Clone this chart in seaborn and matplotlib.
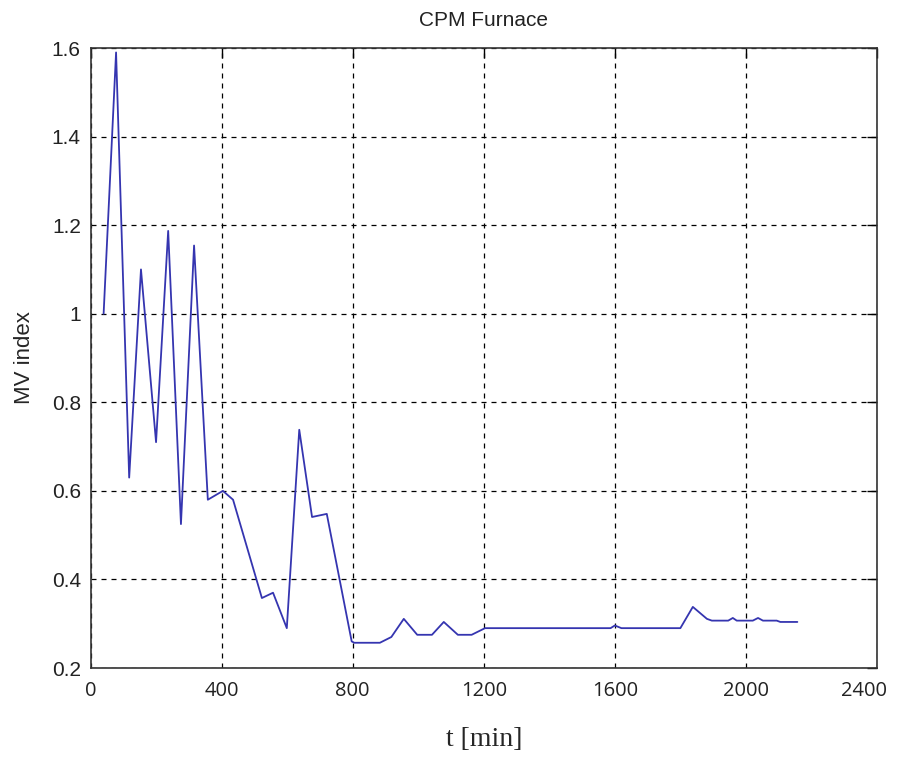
import numpy as np
import pandas as pd
import seaborn as sns
import matplotlib
import matplotlib.pyplot as plt
import matplotlib.transforms as mtransforms

# values
t_min = [40, 78, 118, 154, 200, 237, 276, 316, 358, 404, 435, 523, 557, 599,
         637, 676, 721, 797, 805, 883, 918, 956, 997, 1042, 1078, 1121, 1163,
         1204, 1587, 1600, 1620, 1800, 1838, 1881, 1896, 1946, 1960, 1972,
         2021, 2037, 2052, 2094, 2105, 2157]
mv_index = [1.0, 1.59, 0.63, 1.10, 0.71, 1.187, 0.525, 1.154, 0.58, 0.60, 0.58,
            0.358, 0.37, 0.29, 0.738, 0.541, 0.548, 0.26, 0.257, 0.257, 0.27,
            0.311, 0.275, 0.275, 0.304, 0.275, 0.275, 0.29, 0.29, 0.296, 0.29,
            0.29, 0.338, 0.311, 0.307, 0.307, 0.313, 0.307, 0.307, 0.313,
            0.307, 0.307, 0.304, 0.304]
x_ticks = [0, 400, 800, 1200, 1600, 2000, 2400]
y_ticks = [0.2, 0.4, 0.6, 0.8, 1.0, 1.2, 1.4, 1.6]
y_labels = ['0.2', '0.4', '0.6', '0.8', '1', '1.2', '1.4', '1.6']

df = pd.DataFrame({'t': t_min, 'mv': mv_index})

sns.set_style('white')
plt.rcParams['font.family'] = ['Liberation Sans', 'DejaVu Sans']

fig = plt.figure(figsize=(8.97, 7.61), dpi=100)
ax = fig.add_axes([0.1009, 0.1222, 0.8768, 0.8147])

sns.lineplot(data=df, x='t', y='mv', ax=ax, color='#3535b0', linewidth=1.3, sort=False)

ax.set_xlim(0, 2400)
ax.set_ylim(0.2, 1.6)
ax.set_xticks(x_ticks)
ax.set_yticks(y_ticks)
ax.set_yticklabels(y_labels)
ax.tick_params(direction='in', top=True, right=True, length=7, width=1,
               colors='black')
ax.tick_params(axis='y', labelsize=15, pad=7, labelcolor='#222222')
ax.tick_params(axis='x', labelsize=14.5, pad=9, labelcolor='#222222')
xlabs = ax.get_xticklabels()
for lab in xlabs:
    lab.set_family(['Open Sans', 'DejaVu Sans'])
# last label sits a little left of its tick, as in the reference
shift = mtransforms.ScaledTranslation(-9 / 72, 0, fig.dpi_scale_trans)
xlabs[-1].set_transform(xlabs[-1].get_transform() + shift)
ax.grid(True, color='black', linestyle=(0, (4, 4)), linewidth=0.9)
for s in ax.spines.values():
    s.set_color('#333333')
    s.set_linewidth(1.2)

ax.set_title('CPM Furnace', fontsize=15, pad=16, color='#222222')
ax.set_ylabel('MV index', fontsize=16, labelpad=12)
ax.set_xlabel('t [min]', fontsize=20, family=['Liberation Serif', 'DejaVu Serif'], labelpad=19)

fig.savefig('out.png', dpi=100, facecolor='white')
